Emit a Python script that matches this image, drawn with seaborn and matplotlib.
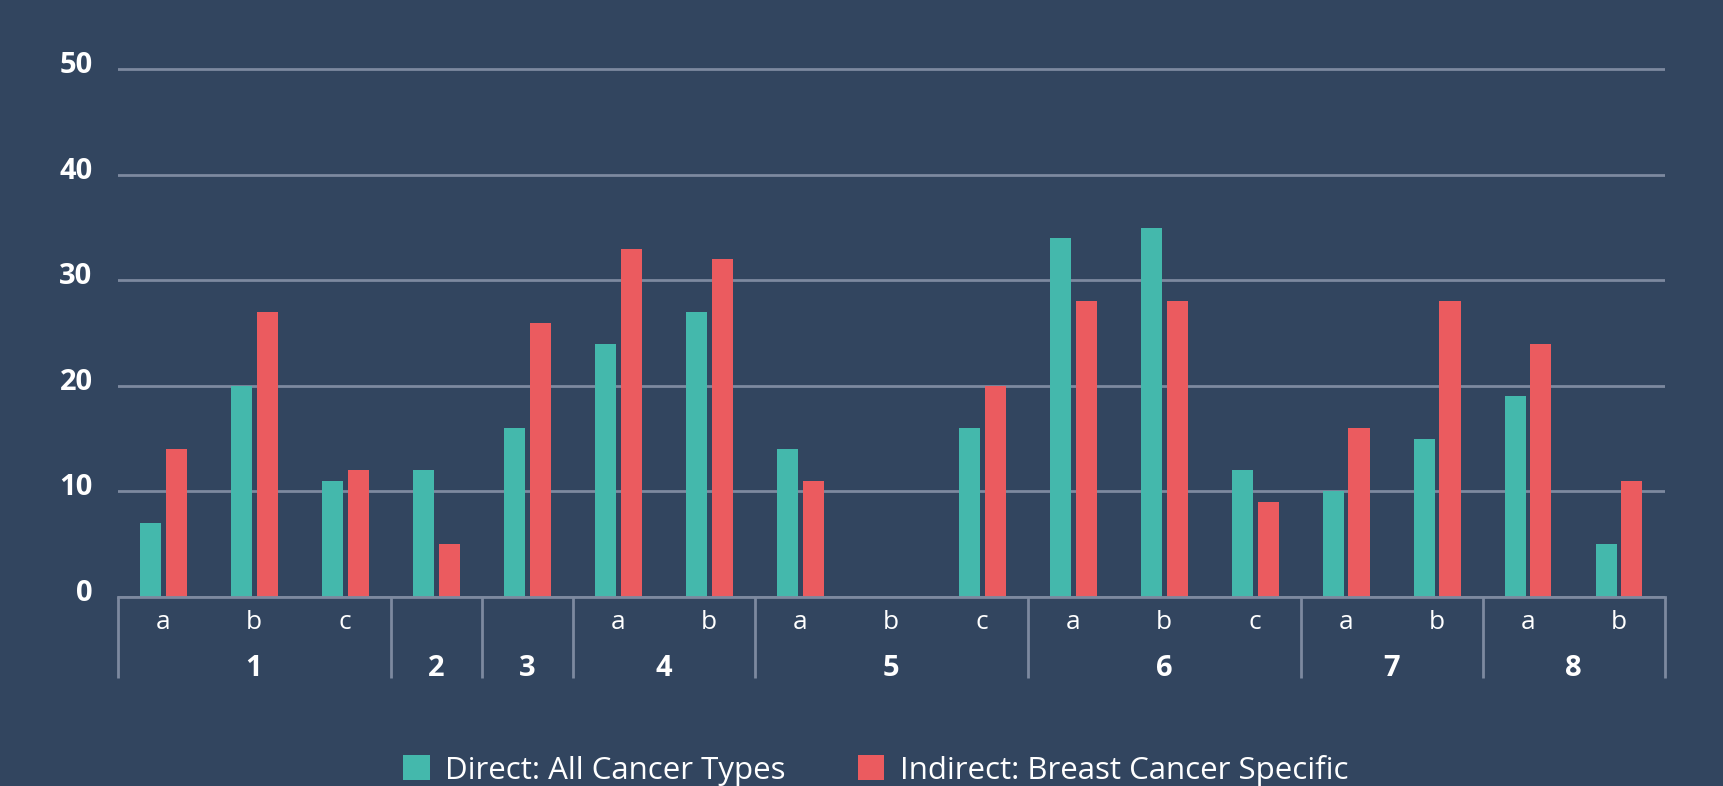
import matplotlib
matplotlib.use("Agg")
import matplotlib.pyplot as plt
import matplotlib.transforms as mtransforms
from matplotlib.patches import Patch
import seaborn as sns
import pandas as pd

# ---- data ----
groups = ['1', '1', '1', '2', '3', '4', '4', '5', '5', '5', '6', '6', '6', '7', '7', '8', '8']
subs = ['a', 'b', 'c', '', '', 'a', 'b', 'a', 'b', 'c', 'a', 'b', 'c', 'a', 'b', 'a', 'b']
direct = [7, 20, 11, 12, 16, 24, 27, 14, 0, 16, 34, 35, 12, 10, 15, 19, 5]
indirect = [14, 27, 12, 5, 26, 33, 32, 11, 0, 20, 28, 28, 9, 16, 28, 24, 11]
series_names = ['Direct: All Cancer Types', 'Indirect: Breast Cancer Specific']
y_ticks = [0, 10, 20, 30, 40, 50]

# ---- style ----
BG = '#32455F'
GRID = '#7D899F'
TEAL = '#44B8AC'
RED = '#EB5B5F'
WHITE = '#FFFFFF'
FONT = ['Open Sans', 'DejaVu Sans']

cats = [g + s for g, s in zip(groups, subs)]
df = pd.DataFrame({
    'cat': cats * 2,
    'value': direct + indirect,
    'series': [series_names[0]] * len(cats) + [series_names[1]] * len(cats),
})

plt.rcParams['font.family'] = FONT
fig = plt.figure(figsize=(17.24, 7.86), dpi=100, facecolor=BG)
ax = fig.add_axes([0.0682, 0.2405, 0.8973, 0.6848])
ax.set_facecolor(BG)

sns.barplot(data=df, x='cat', y='value', hue='series', order=cats,
            hue_order=series_names, palette=[TEAL, RED], width=0.57, gap=0.19,
            saturation=1, linewidth=0, legend=False, ax=ax, zorder=3)

ax.set_xlim(-0.5, len(cats) - 0.5)
ax.set_ylim(0, 51)
ax.set_yticks(y_ticks)
ax.set_yticklabels([str(v) for v in y_ticks], fontsize=21, fontweight='bold',
                   color=WHITE, family=FONT)
ax.tick_params(axis='y', length=0, pad=18)
offset = mtransforms.ScaledTranslation(0, 5 / 72, fig.dpi_scale_trans)
for lab in ax.get_yticklabels():
    lab.set_transform(lab.get_transform() + offset)

ax.set_xticks([])
ax.set_xlabel('')
ax.set_ylabel('')
ax.yaxis.grid(True, color=GRID, linewidth=2, zorder=0)
ax.set_axisbelow(True)
for side in ['top', 'right', 'left']:
    ax.spines[side].set_visible(False)
ax.spines['bottom'].set_color(GRID)
ax.spines['bottom'].set_linewidth(2)
ax.spines['bottom'].set_zorder(4)

trans = mtransforms.blended_transform_factory(ax.transData, ax.transAxes)

# sub-category labels
for i, s in enumerate(subs):
    if s:
        ax.text(i, -0.047, s, transform=trans, ha='center', va='center',
                fontsize=19, color=WHITE, family=FONT)

# group labels and separators
bounds = []
start = 0
for i in range(1, len(groups) + 1):
    if i == len(groups) or groups[i] != groups[i - 1]:
        bounds.append((start, i - 1, groups[start]))
        start = i
sep_x = [-0.5] + [b[1] + 0.5 for b in bounds]
for x in sep_x:
    ax.plot([x, x], [0, -0.15], transform=trans, color=GRID, lw=2,
            clip_on=False, solid_capstyle='butt')
for a, b, g in bounds:
    ax.text((a + b) / 2, -0.133, g, transform=trans, ha='center', va='center',
            fontsize=21, fontweight='bold', color=WHITE, family=FONT)

handles = [Patch(facecolor=TEAL, edgecolor='none'), Patch(facecolor=RED, edgecolor='none')]
leg = fig.legend(handles, series_names, loc='center', bbox_to_anchor=(0.508, 0.02),
                 ncol=2, frameon=False, handlelength=0.85,
                 handleheight=0.85, handletextpad=0.5, columnspacing=2.3,
                 prop={'family': FONT, 'size': 22.5})
for t in leg.get_texts():
    t.set_color(WHITE)

fig.savefig('out.png', dpi=100, facecolor=BG)
